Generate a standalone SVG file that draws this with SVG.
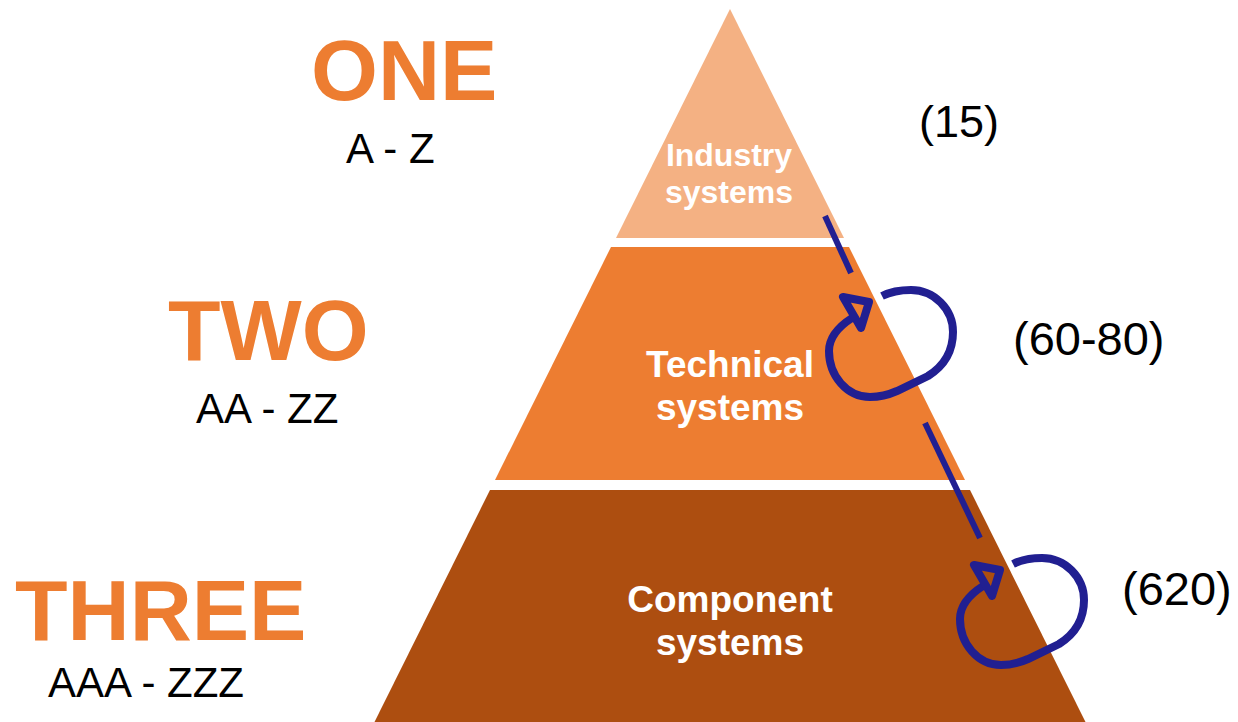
<svg xmlns="http://www.w3.org/2000/svg" xmlns:xlink="http://www.w3.org/1999/xlink" width="1238" height="722" viewBox="0 0 1238 722">
  <style>
    .lvl { font-family: "Liberation Sans", Arial, sans-serif; font-weight: bold; font-size: 86px; fill: #ED7D31; }
    .rng { font-family: "Liberation Sans", Arial, sans-serif; font-size: 42px; fill: #000000; }
    .cnt { font-family: "Liberation Sans", Arial, sans-serif; font-size: 47px; fill: #000000; }
    .lbl { font-family: "Liberation Sans", Arial, sans-serif; font-weight: bold; font-size: 37px; fill: #FFFFFF; text-anchor: middle; }
    .blue { stroke: #211F91; fill: none; }
  </style>
  <defs>
    <g id="loop">
      <path class="blue" stroke-width="8" stroke-linecap="butt" d="M 882 296 C 892 291 901 290 911 290 C 934 290 953 309 953 332 C 953 352 944 366 928 376 L 897 391 C 888 395 879 397 870 397 C 847 397 829 376 829 351 C 829 338 838 327 852 318"/>
      <polygon class="blue" stroke-width="8" stroke-linejoin="round" points="843,297 869,302 861,328"/>
    </g>
  </defs>
  <rect width="1238" height="722" fill="#FFFFFF"/>

  <g id="node-industry">
    <polygon points="730,9 844,238 616,238" fill="#F4B183"/>
    <text class="lbl" x="729" y="166" style="font-size:32px">Industry</text>
    <text class="lbl" x="729" y="203" style="font-size:32px">systems</text>
  </g>
  <g id="node-technical">
    <polygon points="611,247 849,247 965,480 495,480" fill="#ED7D31"/>
    <text class="lbl" x="730" y="377">Technical</text>
    <text class="lbl" x="730" y="420">systems</text>
  </g>
  <g id="node-component">
    <polygon points="490,490 970,490 1086,723 374,723" fill="#AD4E10"/>
    <text class="lbl" x="730" y="612">Component</text>
    <text class="lbl" x="730" y="655">systems</text>
  </g>

  <g id="level-one">
    <text class="lvl" x="311" y="100">ONE</text>
    <text class="rng" x="346" y="163">A - Z</text>
  </g>
  <g id="level-two">
    <text class="lvl" x="168" y="360">TWO</text>
    <text class="rng" x="196" y="423">AA - ZZ</text>
  </g>
  <g id="level-three">
    <text class="lvl" x="15" y="640">THREE</text>
    <text class="rng" x="48" y="697">AAA - ZZZ</text>
  </g>

  <g id="counts">
    <text class="cnt" x="919" y="137" style="font-size:45px">(15)</text>
    <text class="cnt" x="1013" y="355">(60-80)</text>
    <text class="cnt" x="1122" y="605">(620)</text>
  </g>

  <g id="connectors">
    <line class="blue" stroke-width="6" x1="825" y1="216" x2="851" y2="273"/>
    <line class="blue" stroke-width="6" x1="925" y1="423" x2="980" y2="538"/>
    <use xlink:href="#loop"/>
    <use xlink:href="#loop" transform="translate(131,268)"/>
  </g>
</svg>
